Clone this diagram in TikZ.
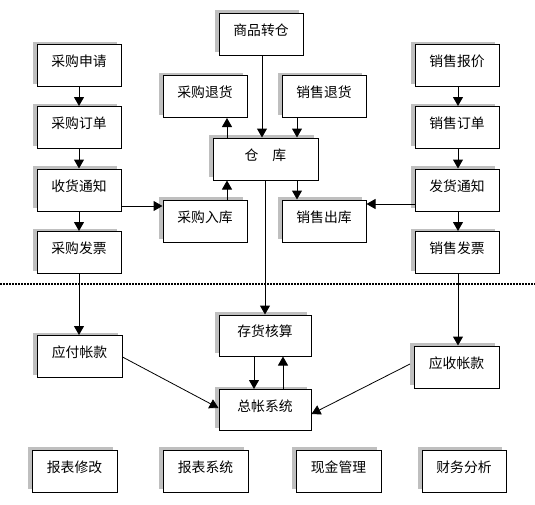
\documentclass[tikz,border=0pt]{standalone}
\usepackage{fontspec}
\newfontfamily\cjk{Noto Sans CJK SC}
\usetikzlibrary{arrows.meta,shadows}
\newcommand\tx[1]{\raisebox{9pt}{#1}\hspace{8pt}}
\begin{document}
\begin{tikzpicture}[x=1pt,y=-1pt,
  box/.style={draw=black,line width=1pt,fill=white,minimum width=84pt,minimum height=42pt,inner sep=0pt,
    font=\cjk\fontsize{13.8}{15}\selectfont,
    drop shadow={shadow xshift=-4pt,shadow yshift=3pt,fill=black!25,opacity=1}},
  wbox/.style={box,minimum width=92pt,minimum height=41pt},
  arr/.style={line width=1pt,-{Triangle[width=10pt,length=9pt]}}]
\useasboundingbox (0,0) rectangle (535,504);
% purchasing column
\node[box] (cgsq) at (79,65.5) {\tx{采购申请}};
\node[box] (cgdd) at (79,127.5) {\tx{采购订单}};
\node[box] (shtz) at (79,190) {\tx{收货通知}};
\node[box] (cgfp) at (79,252.5) {\tx{采购发票}};
% centre
\node[box] (spzc) at (261,34) {\tx{商品转仓}};
\node[box] (cgth) at (205,96.5) {\tx{采购退货}};
\node[box] (xsth) at (324,96.5) {\tx{销售退货}};
\node[box,minimum width=105pt] (ck) at (265.5,159) {\raisebox{9pt}{仓\hspace{14pt}库}};
\node[box] (cgrk) at (205,221) {\tx{采购入库}};
\node[box] (xsck) at (324,221) {\tx{销售出库}};
% sales column
\node[box] (xsbj) at (457,65.5) {\tx{销售报价}};
\node[box] (xsdd) at (457,127.5) {\tx{销售订单}};
\node[box] (fhtz) at (457,190) {\tx{发货通知}};
\node[box] (xsfp) at (457,252.5) {\tx{销售发票}};
% lower part
\node[wbox] (chhs) at (265,335.5) {\tx{存货核算}};
\node[box,minimum width=85pt] (yfzk) at (79.5,356.5) {\tx{应付帐款}};
\node[box,minimum width=85pt] (yszk) at (456.5,367) {\tx{应收帐款}};
\node[wbox] (zzxt) at (265,410) {\tx{总帐系统}};
\node[box,minimum width=85pt] (bbxg) at (74.5,471) {\tx{报表修改}};
\node[box,minimum width=85pt] (bbxt) at (205.5,471) {\tx{报表系统}};
\node[box,minimum width=85pt] (xjgl) at (338.5,471) {\tx{现金管理}};
\node[box,minimum width=84pt] (cwfx) at (464,471) {\tx{财务分析}};
% dotted separator
\draw[line width=2pt,dash pattern=on 2pt off 1pt] (0,283.5) -- (535,283.5);
% purchasing arrows
\draw[arr] (cgsq.south) -- (cgdd.north);
\draw[arr] (cgdd.south) -- (shtz.north);
\draw[arr] (shtz.south) -- (cgfp.north);
\draw[arr] (cgfp.south) -- (yfzk.north -| cgfp.south);
\draw[arr] (shtz.east |- 0,206) -- (cgrk.west |- 0,206);
\draw[arr] (cgrk.north -| 227,0) -- (ck.south -| 227,0);
\draw[arr] (ck.north -| 227,0) -- (cgth.south -| 227,0);
% warehouse arrows
\draw[arr] (spzc.south -| 262,0) -- (ck.north -| 262,0);
\draw[arr] (xsth.south -| 297,0) -- (ck.north -| 297,0);
\draw[arr] (ck.south -| 297,0) -- (xsck.north -| 297,0);
\draw[arr] (ck.south -| 265,0) -- (chhs.north -| 265,0);
% sales arrows
\draw[arr] (xsbj.south -| 458,0) -- (xsdd.north -| 458,0);
\draw[arr] (xsdd.south -| 458,0) -- (fhtz.north -| 458,0);
\draw[arr] (fhtz.south -| 458,0) -- (xsfp.north -| 458,0);
\draw[arr] (xsfp.south -| 458,0) -- (yszk.north -| 458,0);
\draw[arr] (fhtz.west |- 0,204) -- (xsck.east |- 0,204);
% ledger arrows
\draw[arr] (chhs.south -| 254,0) -- (zzxt.north -| 254,0);
\draw[arr] (zzxt.north -| 283,0) -- (chhs.south -| 283,0);
\draw[arr,line width=0.8pt] (yfzk.east |- 0,357) -- (zzxt.west |- 0,408);
\coordinate (ysstart) at (410,364);
\draw[arr,line width=0.8pt] (ysstart) -- (zzxt.east |- 0,414);
\end{tikzpicture}
\end{document}
